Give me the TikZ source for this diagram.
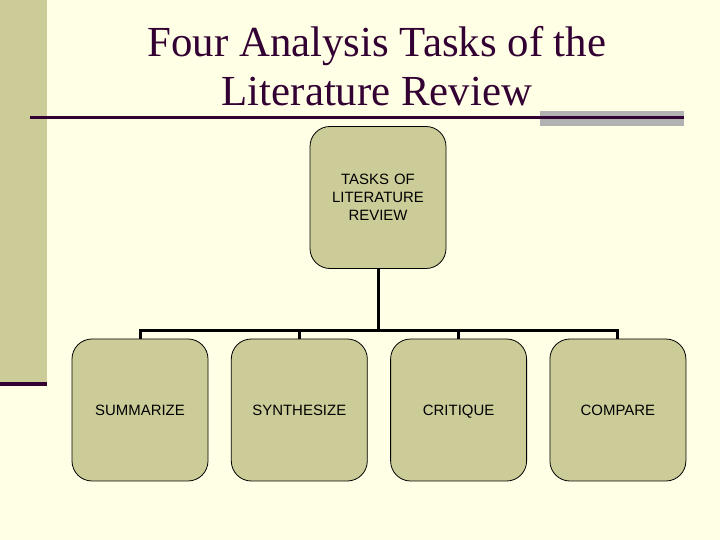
\documentclass[tikz,border=0pt]{standalone}
\usepackage{fontspec}
\setmainfont{Liberation Serif}
\newfontfamily\boxfont{Liberation Sans}
\usetikzlibrary{positioning}

\definecolor{slidebg}{RGB}{255,255,229}
\definecolor{olive}{RGB}{204,204,153}
\definecolor{plum}{RGB}{51,0,51}
\definecolor{bargray}{RGB}{178,178,178}

\tikzset{
  task/.style={draw=black, line width=0.8bp, fill=olive, rounded corners=20bp,
    minimum width=136bp, minimum height=142bp, text width=130bp, align=center,
    inner sep=0pt, font=\boxfont\fontsize{15}{18}\selectfont},
  leaf/.style={task, text height=14bp, text depth=2bp},
  link/.style={line width=3bp}
}

\begin{document}
\begin{tikzpicture}[x=1bp,y=1bp]
    \useasboundingbox (0,0) rectangle (720,540);
    \fill[slidebg] (0,0) rectangle (720,540);
    \fill[olive] (0,155) rectangle (47,540);
    \draw[plum, line width=4bp] (0,156) -- (47,156);
    \fill[bargray] (540,414) rectangle (684,429);
    \draw[plum, line width=3bp] (30,422.5) -- (684,422.5);

    \node (title) [anchor=north, inner sep=0pt, text=plum, align=center,
      font=\fontsize{43}{49}\selectfont] at (377,513.6)
      {Four Analysis Tasks of the\\Literature Review};

    \node (root) [task] at (378,342.5) {TASKS OF\\LITERATURE\\REVIEW};

    \node (summ) [leaf] at (140,130) {SUMMARIZE};
    \node (synth) [leaf, right=22.5bp of summ] {SYNTHESIZE};
    \node (critique) [leaf, right=22.5bp of synth] {CRITIQUE};
    \node (compare) [leaf, right=22.5bp of critique] {COMPARE};

    \foreach \c in {summ,synth,critique,compare}
      \draw [link] (root.south) -- ++(0,-62) -| (\c.north);
\end{tikzpicture}
\end{document}
